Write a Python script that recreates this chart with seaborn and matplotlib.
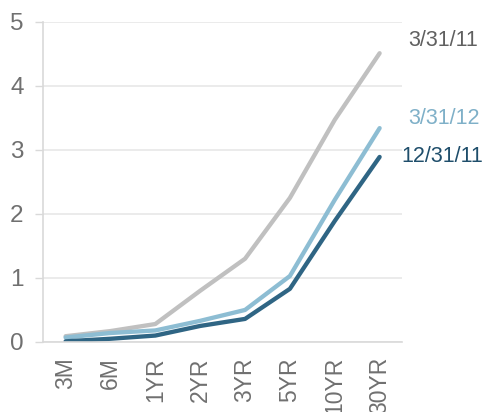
import pandas as pd
import matplotlib.pyplot as plt
import seaborn as sns

# Treasury yield curve values
maturities = ['3M', '6M', '1YR', '2YR', '3YR', '5YR', '10YR', '30YR']
yields_mar11 = [0.09, 0.17, 0.28, 0.80, 1.30, 2.25, 3.47, 4.51]
yields_mar12 = [0.07, 0.14, 0.18, 0.33, 0.50, 1.03, 2.22, 3.34]
yields_dec11 = [0.01, 0.05, 0.10, 0.25, 0.36, 0.83, 1.89, 2.89]
series_names = ['3/31/11', '3/31/12', '12/31/11']

df = pd.DataFrame({
    'maturity': maturities * 3,
    'yield': yields_mar11 + yields_mar12 + yields_dec11,
    'date': [series_names[0]] * 8 + [series_names[1]] * 8 + [series_names[2]] * 8,
})

line_colors = {'3/31/11': '#c0c0c0', '3/31/12': '#8dbdd3', '12/31/11': '#2f6584'}
text_colors = {'3/31/11': '#606060', '3/31/12': '#7fb0c8', '12/31/11': '#1f4e6b'}

sns.set_style('white')
plt.rcParams['font.family'] = ['Liberation Sans', 'DejaVu Sans']

fig = plt.figure(figsize=(4.85, 4.12), dpi=100)
ax = fig.add_axes([0.089, 0.17, 0.74, 0.777])

sns.lineplot(data=df, x='maturity', y='yield', hue='date', palette=line_colors,
             linewidth=3.1, legend=False, ax=ax, sort=False)

ax.set_xlim(-0.5, len(maturities) - 0.5)
ax.set_ylim(0, 5)
ax.set_yticks([0, 1, 2, 3, 4, 5])
ax.yaxis.grid(True, color='#e8e8e8', linewidth=1.2)
ax.set_axisbelow(True)
ax.set_xlabel('')
ax.set_ylabel('')

# boundaries between categories get the tick marks
ax.set_xticks([i - 0.5 for i in range(len(maturities) + 1)], minor=True)
ax.tick_params(axis='x', which='major', length=0, pad=11, labelsize=16.5,
               labelcolor='#707070', labelrotation=90)
ax.tick_params(axis='x', which='minor', length=6, width=1, color='#d9d9d9', direction='out')
ax.tick_params(axis='y', length=6, width=1, color='#d9d9d9', pad=8, labelsize=17.5,
               labelcolor='#707070', left=True)

for side in ['top', 'right']:
    ax.spines[side].set_visible(False)
for side in ['left', 'bottom']:
    ax.spines[side].set_color('#d9d9d9')
    ax.spines[side].set_linewidth(1.2)

# series labels at the right end of each line
last_vals = {'3/31/11': yields_mar11[-1], '3/31/12': yields_mar12[-1], '12/31/11': yields_dec11[-1]}
offsets = {'3/31/11': (29, 13), '3/31/12': (29, 10), '12/31/11': (22, 0)}
for name in series_names:
    ax.annotate(name, xy=(len(maturities) - 1, last_vals[name]), xytext=offsets[name],
                textcoords='offset pixels', fontsize=15.5, color=text_colors[name],
                va='center', ha='left', annotation_clip=False)

fig.savefig('out.png', dpi=100)
